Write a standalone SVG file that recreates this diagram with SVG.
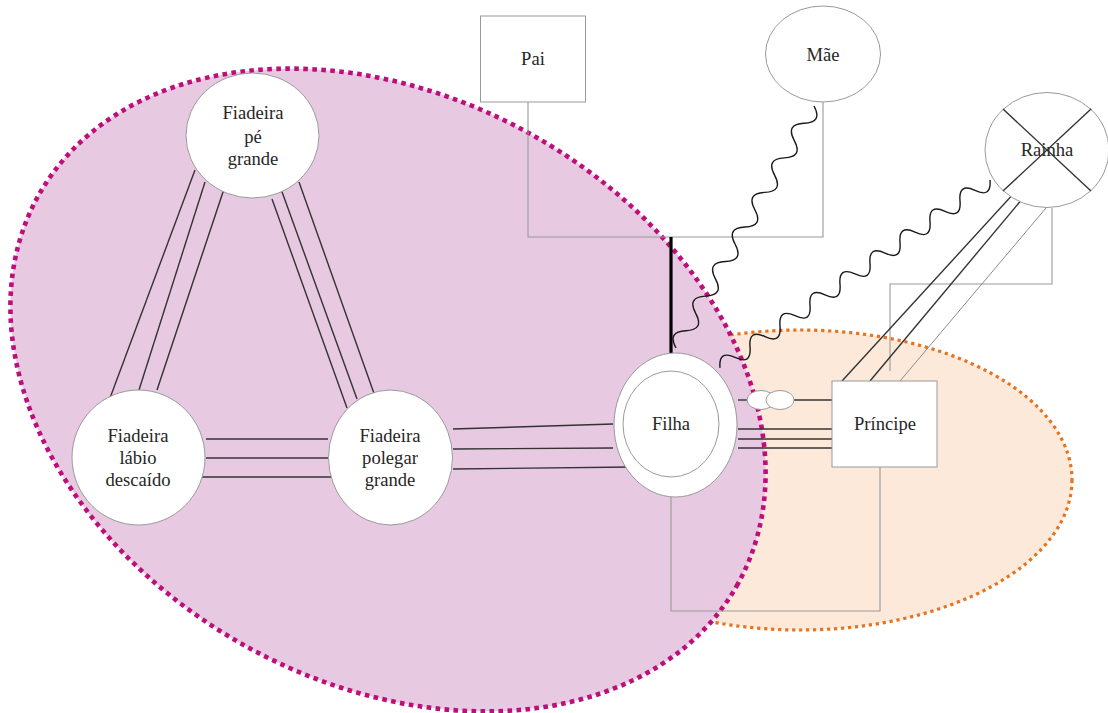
<svg xmlns="http://www.w3.org/2000/svg" width="1108" height="713" viewBox="0 0 1108 713">
  <style>
    .node { fill: #ffffff; stroke: #9a9a9a; stroke-width: 1; }
    .label { font-family: "Liberation Serif", "Times New Roman", serif; font-size: 18.6px; fill: #262626; text-anchor: middle; }
    .tie { stroke: #333333; stroke-width: 1.4; fill: none; }
    .kin { stroke: #9a9a9a; stroke-width: 1.1; fill: none; }
    .wave { stroke: #1a1a1a; stroke-width: 1.4; fill: none; stroke-linejoin: round; }
  </style>

  <!-- group regions -->
  <g id="regions">
    <ellipse id="region-palace" cx="800" cy="480" rx="272" ry="150" fill="#FDE9DA" stroke="#E8731C" stroke-width="3.2" stroke-dasharray="3.2 3.8"/>
    <ellipse id="region-spinners" cx="388" cy="390" rx="400" ry="293" transform="rotate(29 388 390)" fill="#E8C9E2" stroke="#BC0F7C" stroke-width="4.6" stroke-dasharray="4.6 4.4"/>
  </g>

  <!-- connectors -->
  <g id="connectors">
    <!-- parents' bracket -->
    <polyline class="kin" points="528,102 528,237 823,237 823,102"/>
    <line x1="671" y1="237" x2="671" y2="353" stroke="#000" stroke-width="3.2"/>
    <!-- Filha / Príncipe bracket -->
    <polyline class="kin" points="671,497 671,611 880,611 880,467"/>
    <!-- Rainha / Príncipe bracket -->
    <polyline class="kin" points="1052,208 1052,284 890,284 890,371"/>

    <!-- hostile links -->
    <path class="wave" d="M814,106 q8.97,16.56 -9.857,17.285 t-9.857,17.285 t-9.857,17.285 t-9.857,17.285 t-9.857,17.285 t-9.857,17.285 t-9.857,17.285 t-9.857,17.285 t-9.857,17.285 t-9.857,17.285 t-9.857,17.285 t-9.857,17.285 t-9.857,17.285 t-9.857,17.285"/>
    <path class="wave" d="M990,180 q1.64,18.35 -15,10.44 t-15,10.44 t-15,10.44 t-15,10.44 t-15,10.44 t-15,10.44 t-15,10.44 t-15,10.44 t-15,10.44 t-15,10.44 t-15,10.44 t-15,10.44 t-15,10.44 t-15,10.44 t-15,10.44 t-15,10.44 t-15,10.44 t-15,10.44"/>

    <!-- Rainha to Príncipe -->
    <line class="tie" x1="842" y1="381" x2="1091" y2="109"/>
    <line class="tie" x1="870" y1="381" x2="1023" y2="198"/>
    <line x1="900" y1="381" x2="1046" y2="208" stroke="#8a8a8a" stroke-width="1"/>

    <!-- Filha to Príncipe -->
    <line class="tie" x1="738" y1="400" x2="747" y2="400"/>
    <line class="tie" x1="794" y1="400" x2="832" y2="400"/>
    <line class="tie" x1="738" y1="429" x2="832" y2="429"/>
    <line class="tie" x1="738" y1="439" x2="832" y2="439"/>
    <line class="tie" x1="738" y1="448" x2="832" y2="448"/>

    <!-- polegar to Filha -->
    <line class="tie" x1="453" y1="429" x2="613" y2="424"/>
    <line class="tie" x1="453" y1="449" x2="613" y2="448"/>
    <line class="tie" x1="453" y1="469" x2="632" y2="467"/>

    <!-- lábio to polegar -->
    <line class="tie" x1="206" y1="439" x2="328" y2="439"/>
    <line class="tie" x1="206" y1="458" x2="328" y2="458"/>
    <line class="tie" x1="195" y1="477" x2="338" y2="477"/>

    <!-- pé grande to lábio -->
    <line class="tie" x1="195" y1="170" x2="110" y2="398"/>
    <line class="tie" x1="205" y1="182" x2="139" y2="390"/>
    <line class="tie" x1="224" y1="189" x2="157" y2="390"/>

    <!-- pé grande to polegar -->
    <line class="tie" x1="272" y1="199" x2="347" y2="408"/>
    <line class="tie" x1="281" y1="189" x2="357" y2="399"/>
    <line class="tie" x1="299" y1="182" x2="376" y2="399"/>
  </g>

  <g id="pai">
    <rect class="node" x="480.5" y="16" width="105" height="86"/>
    <text class="label" x="533" y="65">Pai</text>
  </g>

  <g id="mae">
    <ellipse class="node" cx="823" cy="54" rx="57.5" ry="48"/>
    <text class="label" x="823" y="61">Mãe</text>
  </g>

  <g id="rainha">
    <ellipse class="node" cx="1047" cy="150" rx="62" ry="57.5"/>
    <text class="label" x="1047" y="156">Rainha</text>
    <line class="tie" x1="1003" y1="109" x2="1091" y2="191"/>
    <line class="tie" x1="1091" y1="109" x2="1003" y2="191"/>
  </g>

  <g id="principe">
    <rect class="node" x="832" y="381" width="105" height="86"/>
    <text class="label" x="885" y="430">Príncipe</text>
  </g>

  <g id="filha">
    <ellipse class="node" cx="675.5" cy="425" rx="61.5" ry="72"/>
    <ellipse class="node" cx="671" cy="424" rx="48" ry="53"/>
    <text class="label" x="671" y="430">Filha</text>
  </g>

  <g id="twins">
    <ellipse class="node" cx="761" cy="400" rx="14" ry="9.5"/>
    <ellipse class="node" cx="780" cy="400" rx="14" ry="9.5"/>
  </g>

  <g id="fiadeira-pe-grande">
    <ellipse class="node" cx="252.5" cy="135.5" rx="66.5" ry="62.5"/>
    <text class="label" x="253" y="119">Fiadeira</text>
    <text class="label" x="253" y="143">pé</text>
    <text class="label" x="253" y="165">grande</text>
  </g>

  <g id="fiadeira-labio-descaido">
    <ellipse class="node" cx="138.5" cy="457.5" rx="66.5" ry="67.5"/>
    <text class="label" x="138" y="442">Fiadeira</text>
    <text class="label" x="138" y="464">lábio</text>
    <text class="label" x="138" y="486">descaído</text>
  </g>

  <g id="fiadeira-polegar-grande">
    <ellipse class="node" cx="390.5" cy="457.5" rx="62" ry="67.5"/>
    <text class="label" x="390" y="442">Fiadeira</text>
    <text class="label" x="390" y="464">polegar</text>
    <text class="label" x="390" y="486">grande</text>
  </g>
</svg>
